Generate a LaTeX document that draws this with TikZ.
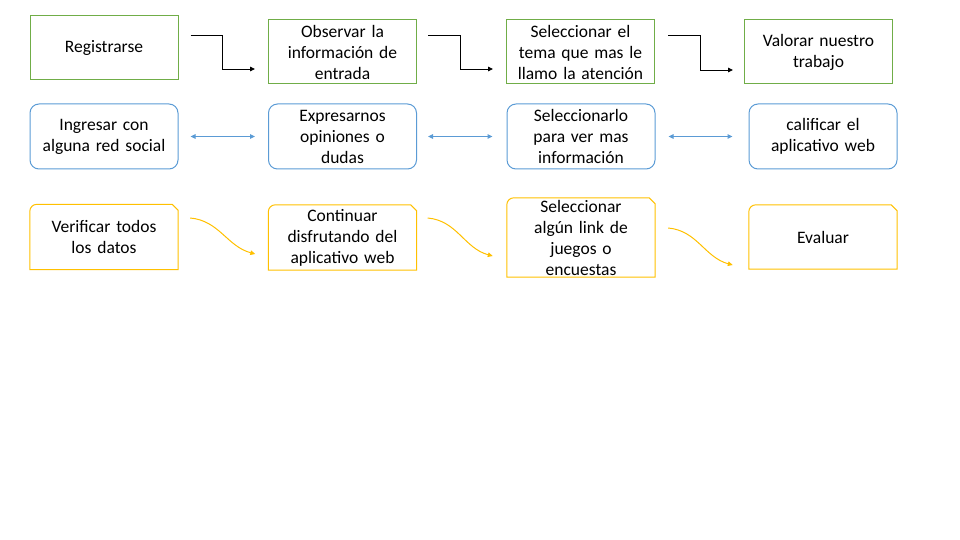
\documentclass[tikz,border=0pt]{standalone}
\usepackage{fontspec}
\setmainfont{Carlito}
\usetikzlibrary{
    positioning,
    calc,
    arrows.meta
}
\definecolor{Verde}{HTML}{70AD47}
\definecolor{Azul}{HTML}{5B9BD5}
\definecolor{Amarillo}{HTML}{FFC000}

\tikzset{
    caja/.style={
        minimum width=148pt,
        minimum height=64pt,
        inner sep=0pt,
        text width=144pt,
        align=center,
        font=\fontsize{17.5}{21}\selectfont
    },
    cajaverde/.style={caja, draw=Verde, line width=1pt},
    cajaazul/.style={caja, draw=Azul, line width=1pt, rounded corners=9pt},
    cajaamarilla/.style={caja},
    punta/.tip={Triangle[length=5pt,width=4.5pt]},
    flecha/.style={black, line width=0.9pt, -punta},
    flechaazul/.style={Azul, line width=1pt, punta-punta},
    flechaamarilla/.style={Amarillo, line width=1pt, -punta}
}

\begin{document}
\begin{tikzpicture}[x=1pt,y=1pt]

    \useasboundingbox (0,0) rectangle (960,-540);

    % fila verde
    \node[cajaverde] (reg) at (104,-47.5) {Registrarse};
    \node[cajaverde] (obs) at (342.5,-52) {Observar la\\ información de\\ entrada};
    \node[cajaverde] (sel) at (580.5,-52) {Seleccionar el\\ tema que mas le\\ llamo la atención};
    \node[cajaverde] (val) at (818.5,-52) {Valorar nuestro\\ trabajo};

    % fila azul
    \node[cajaazul, minimum height=65pt] (ing) at (104,-136.5) {Ingresar con\\ alguna red social};
    \node[cajaazul, minimum height=65pt] (exp) at (342.5,-136.5) {Expresarnos\\ opiniones o\\ dudas};
    \node[cajaazul, minimum height=65pt] (selv) at (581,-136.5) {Seleccionarlo\\ para ver mas\\ información};
    \node[cajaazul, minimum height=65pt] (cal) at (823,-136.5) {calificar el\\ aplicativo web};

    % fila amarilla
    \node[cajaamarilla, minimum height=65pt] (ver) at (104,-237) {Verificar todos\\ los datos};
    \node[cajaamarilla, minimum height=65pt] (con) at (342.5,-237.5) {Continuar\\ disfrutando del\\ aplicativo web};
    \node[cajaamarilla, minimum height=79pt] (link) at (581,-237.5) {Seleccionar\\ algún link de\\ juegos o\\ encuestas};
    \node[cajaamarilla] (eva) at (823,-237) {Evaluar};

    \foreach \n in {ver,con,link,eva}
        \draw[Amarillo, line width=1pt] (\n.south west)
            -- ([yshift=-7pt]\n.north west)
            arc[start angle=180, end angle=90, radius=7pt]
            -- ([xshift=-6pt]\n.north east)
            -- ([yshift=-6pt]\n.north east)
            -- (\n.south east) -- cycle;

    % conectores
    \draw[flecha] ([xshift=12pt,yshift=12.5pt]reg.east) -| ($([xshift=12pt]reg.east)!0.5!([xshift=-13pt]obs.west)$) |- ([xshift=-13pt,yshift=-17pt]obs.west);
    \draw[flecha] ([xshift=11pt,yshift=17pt]obs.east) -| ($([xshift=11pt]obs.east)!0.5!([xshift=-13pt]sel.west)$) |- ([xshift=-13pt,yshift=-17pt]sel.west);
    \draw[flecha] ([xshift=13pt,yshift=17pt]sel.east) -| ($([xshift=13pt]sel.east)!0.5!([xshift=-11pt]val.west)$) |- ([xshift=-11pt,yshift=-18pt]val.west);

    \draw[flechaazul] ([xshift=12pt]ing.east) -- ([xshift=-13pt]exp.west);
    \draw[flechaazul] ([xshift=11pt]exp.east) -- ([xshift=-14pt]selv.west);
    \draw[flechaazul] ([xshift=13pt]selv.east) -- ([xshift=-16pt]cal.west);

    \draw[flechaamarilla] ([xshift=12pt,yshift=19pt]ver.east) to[out=-5,in=165] ([xshift=-13pt,yshift=-16.5pt]con.west);
    \draw[flechaamarilla] ([xshift=11pt,yshift=19.5pt]con.east) to[out=-5,in=165] ([xshift=-14pt,yshift=-18.5pt]link.west);
    \draw[flechaamarilla] ([xshift=13pt,yshift=9.5pt]link.east) to[out=-5,in=165] ([xshift=-16pt,yshift=-28pt]eva.west);

\end{tikzpicture}
\end{document}
